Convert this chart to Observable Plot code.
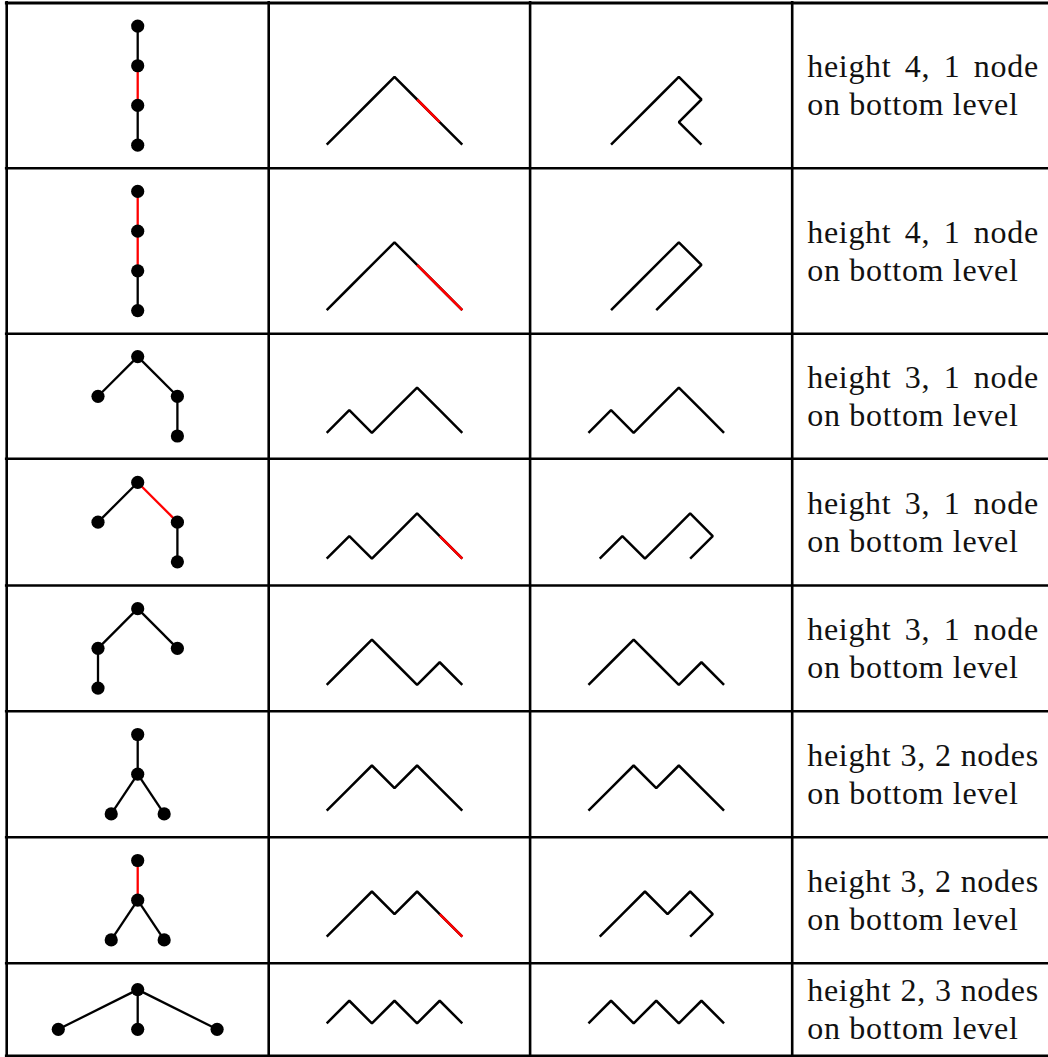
<!DOCTYPE html>
<html>
<head>
<meta charset="utf-8">
<script src="https://cdn.jsdelivr.net/npm/d3@7"></script>
<script src="https://cdn.jsdelivr.net/npm/@observablehq/plot@0.6"></script>
<style>
  html, body { margin: 0; padding: 0; background: #fff; }
  #chart svg { display: block; }
  #chart svg g[aria-label="text"] text { font-family: "Liberation Serif", "Times New Roman", "DejaVu Serif", serif !important; }
</style>
</head>
<body>
<div id="chart"></div>
<script>
// ---------------- data ----------------
// description column, two lines per row
const labelLine1 = [
  "height 4, 1 node",
  "height 4, 1 node",
  "height 3, 1 node",
  "height 3, 1 node",
  "height 3, 1 node",
  "height 3, 2 nodes",
  "height 3, 2 nodes",
  "height 2, 3 nodes"
];
const labelLine2 = [
  "on bottom level", "on bottom level", "on bottom level", "on bottom level",
  "on bottom level", "on bottom level", "on bottom level", "on bottom level"
];

// tree shapes: each node as [horizontal offset in tree units, depth]
const treeShapes = [
  [[0, 0], [0, 1], [0, 2], [0, 3]],
  [[0, 0], [0, 1], [0, 2], [0, 3]],
  [[0, 0], [-1, 1], [1, 1], [1, 2]],
  [[0, 0], [-1, 1], [1, 1], [1, 2]],
  [[0, 0], [-1, 1], [1, 1], [-1, 2]],
  [[0, 0], [0, 1], [-2 / 3, 2], [2 / 3, 2]],
  [[0, 0], [0, 1], [-2 / 3, 2], [2 / 3, 2]],
  [[0, 0], [-2, 1], [0, 1], [2, 1]]
];
// parent index of each node (-1 = root)
const treeParents = [
  [-1, 0, 1, 2],
  [-1, 0, 1, 2],
  [-1, 0, 0, 2],
  [-1, 0, 0, 2],
  [-1, 0, 0, 1],
  [-1, 0, 1, 1],
  [-1, 0, 1, 1],
  [-1, 0, 0, 0]
];
// child node index of the edges drawn in red
const treeRedChildren = [[2], [1, 2], [], [2], [], [], [1], []];

// Dyck words (U = up step, D = down step) and red step indices
const dyckWords = ["UUUDDD", "UUUDDD", "UDUUDD", "UDUUDD", "UUDDUD", "UUDUDD", "UUDUDD", "UDUDUD"];
const dyckRedSteps = [[4], [4, 5], [], [5], [], [], [5], []];

// ---------------- layout ----------------
const W = 1048, H = 1057;
const rowLines = [2.5, 167.7, 333.3, 458.3, 585, 710.7, 836.7, 962.7, 1055.2];
const colLines = [6.2, 268.2, 529.6, 791.7];
const treeUnit = 39.7, pathUnit = 22.6, nodeR = 6.6;
const pathShiftX = -4.9, pathTopOffset = -8.7;
const textX = 806.7, textWidth = 231.6;
const lineW = 2.6, pathW = 2.5, edgeW = 2.3;
const serif = "Liberation Serif, Times New Roman, DejaVu Serif, serif";

const nodes = [], edgesBlack = [], edgesRed = [];
const path2 = [], path3 = [], redSegs = [];
const rows = [];

for (let i = 0; i < dyckWords.length; i++) {
  const top = rowLines[i], bot = rowLines[i + 1], cy = (top + bot) / 2;

  // tree
  const shape = treeShapes[i];
  const depth = d3.max(shape, d => d[1]);
  const tcx = (colLines[0] + colLines[1]) / 2;
  const ty0 = cy - depth * treeUnit / 2;
  const pos = shape.map(([u, v]) => ({x: tcx + u * treeUnit, y: ty0 + v * treeUnit}));
  pos.forEach(p => nodes.push(p));
  treeParents[i].forEach((p, j) => {
    if (p < 0) return;
    const e = {x1: pos[p].x, y1: pos[p].y, x2: pos[j].x, y2: pos[j].y};
    (treeRedChildren[i].includes(j) ? edgesRed : edgesBlack).push(e);
  });

  // paths
  const word = dyckWords[i];
  const red = dyckRedSteps[i];
  const hs = [0], k2 = [0], k3 = [0];
  for (let s = 0; s < word.length; s++) {
    hs.push(hs[s] + (word[s] === "U" ? 1 : -1));
    k2.push(k2[s] + 1);
    k3.push(k3[s] + (red.includes(s) ? -1 : 1));
  }
  const maxH = d3.max(hs);
  const ptop = cy + pathTopOffset;
  const yAt = h => ptop + (maxH - h) * pathUnit;
  const c2 = (colLines[1] + colLines[2]) / 2 + pathShiftX;
  const c3 = (colLines[2] + colLines[3]) / 2 + pathShiftX;
  const m2 = (d3.min(k2) + d3.max(k2)) / 2;
  const m3 = (d3.min(k3) + d3.max(k3)) / 2;
  const p2 = hs.map((h, s) => ({id: i, x: c2 + (k2[s] - m2) * pathUnit, y: yAt(h)}));
  const p3 = hs.map((h, s) => ({id: i, x: c3 + (k3[s] - m3) * pathUnit, y: yAt(h)}));
  p2.forEach(p => path2.push(p));
  p3.forEach(p => path3.push(p));
  red.forEach(s => redSegs.push({x1: p2[s].x, y1: p2[s].y, x2: p2[s + 1].x, y2: p2[s + 1].y}));

  rows.push({l1: labelLine1[i], l2: labelLine2[i], b1: cy - 8.3, b2: cy + 29.7});
}

const svg = Plot.plot({
  width: W,
  height: H,
  margin: 0,
  x: {domain: [0, W], range: [0, W], axis: null},
  y: {domain: [0, H], range: [0, H], axis: null},
  style: {background: "#fff"},
  marks: [
    // table grid
    Plot.ruleY(rowLines.slice(1), {y: d => d, x1: () => colLines[0] - lineW / 2, x2: () => W, stroke: "black", strokeWidth: lineW}),
    Plot.ruleY([rowLines[0]], {y: d => d, x1: () => colLines[0] - lineW / 2, x2: () => W, stroke: "black", strokeWidth: 3}),
    Plot.ruleX(colLines, {x: d => d, y1: () => 1, y2: () => rowLines[rowLines.length - 1] + lineW / 2, stroke: "black", strokeWidth: lineW}),
    // trees
    Plot.link(edgesBlack, {x1: "x1", y1: "y1", x2: "x2", y2: "y2", stroke: "black", strokeWidth: edgeW}),
    Plot.link(edgesRed, {x1: "x1", y1: "y1", x2: "x2", y2: "y2", stroke: "#ff0000", strokeWidth: edgeW}),
    Plot.dot(nodes, {x: "x", y: "y", r: nodeR, fill: "black", stroke: "none"}),
    // Dyck paths
    Plot.line(path2, {x: "x", y: "y", z: "id", stroke: "black", strokeWidth: pathW, strokeLinejoin: "miter", strokeLinecap: "butt"}),
    Plot.link(redSegs, {x1: "x1", y1: "y1", x2: "x2", y2: "y2", stroke: "#ff0000", strokeWidth: pathW, strokeLinecap: "butt"}),
    Plot.line(path3, {x: "x", y: "y", z: "id", stroke: "black", strokeWidth: pathW, strokeLinejoin: "miter", strokeLinecap: "butt"}),
    // descriptions
    Plot.text(rows, {x: () => textX, y: "b1", text: "l1", textAnchor: "start", lineAnchor: "bottom",
      fontFamily: serif, fontSize: 32, fill: "#111"}),
    Plot.text(rows, {x: () => textX, y: "b2", text: "l2", textAnchor: "start", lineAnchor: "bottom",
      fontFamily: serif, fontSize: 32, fill: "#111"})
  ]
});

document.getElementById("chart").append(svg);

// justify the first description line across the column width, like the typeset table
const textGroups = svg.querySelectorAll('g[aria-label="text"]');
if (textGroups.length >= 2) {
  textGroups[0].querySelectorAll("text").forEach(t => {
    t.style.letterSpacing = "0.7px";
    const w = t.getComputedTextLength();
    const spaces = (t.textContent.match(/ /g) || []).length;
    if (spaces > 0) t.style.wordSpacing = Math.max(0, (textWidth - w) / spaces) + "px";
  });
  textGroups[1].querySelectorAll("text").forEach(t => {
    t.style.letterSpacing = "0.7px";
  });
}
</script>
</body>
</html>
